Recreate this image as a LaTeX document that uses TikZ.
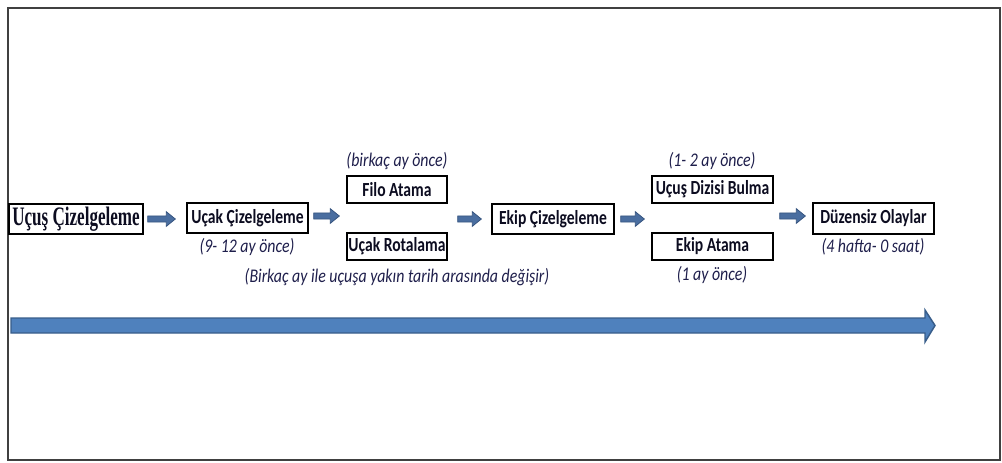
\documentclass[tikz,border=0pt]{standalone}
\usepackage{fontspec}
\usetikzlibrary{calc}
\newfontfamily\labelfont[FakeStretch=0.78]{Carlito}
\newfontfamily\notefont[FakeStretch=0.82]{Carlito}
\newfontfamily\headfont[FakeStretch=0.64]{Liberation Serif}
\definecolor{inkc}{RGB}{12,12,32}
\definecolor{notec}{RGB}{30,30,75}
\definecolor{barfill}{RGB}{79,129,189}
\definecolor{barline}{RGB}{56,93,138}
\definecolor{tipfill}{RGB}{74,110,160}
\definecolor{tipline}{RGB}{55,85,128}
\begin{document}
\begin{tikzpicture}[x=0.75pt,y=-0.75pt,
  stage/.style={draw=black, line width=1pt, inner sep=0pt, text=inkc,
    font=\labelfont\bfseries\fontsize{15}{17}\selectfont, minimum height=22.5pt},
  substage/.style={stage, minimum height=20.25pt},
  note/.style={inner sep=0pt, text=notec, font=\notefont\itshape\fontsize{14.5}{16}\selectfont},
  flow/.style={fill=tipfill, draw=tipline, line width=0.6pt,
    to path={let \p1=(\tikztostart), \p2=(\tikztotarget) in
      (\x1,\y1+2.3pt) -- (\x2-6.8pt,\y1+2.3pt) -- (\x2-6.8pt,\y1+5.5pt) -- (\x2,\y1)
      -- (\x2-6.8pt,\y1-5.5pt) -- (\x2-6.8pt,\y1-2.3pt) -- (\x1,\y1-2.3pt) -- cycle}}
]
\useasboundingbox (0,0) rectangle (1002,462);
% outer frame
\draw[draw=black!75, line width=1.2pt] (8,8) rectangle (1000,460);

% planning stages
\node[stage, minimum width=100.5pt, font=\headfont\bfseries\fontsize{20}{22}\selectfont] (t) at (76,219) {Uçuş Çizelgeleme};
\node[stage, minimum width=90.75pt] (u) at (247.5,218) {Uçak Çizelgeleme};
\node[substage, minimum width=75pt] (f) at (397,189.5) {Filo Atama};
\node[substage, minimum width=75pt] (r) at (397,246.5) {Uçak Rotalama};
\node[stage, minimum width=91.5pt] (e) at (553,219) {Ekip Çizelgeleme};
\node[substage, minimum width=90.75pt] (d) at (712.5,189.5) {Uçuş Dizisi Bulma};
\node[substage, minimum width=90.75pt] (a) at (712.5,246.5) {Ekip Atama};
\node[stage, minimum width=90.75pt, minimum height=23.25pt] (z) at (873.5,218.5) {Düzensiz Olaylar};

% time notes
\node[note] (nu) at (247,247) {(9- 12 ay önce)};
\node[note] (nf) at (397,161) {(birkaç ay önce)};
\node[note] (nr) at (397,277) {(Birkaç ay ile uçuşa yakın tarih arasında değişir)};
\node[note] (nd) at (712,161) {(1- 2 ay önce)};
\node[note] (na) at (712,275) {(1 ay önce)};
\node[note] (nz) at (873,247) {(4 hafta- 0 saat)};

% gaps between the paired stages
\coordinate (g1) at ($(f.south)!0.5!(r.north)$);
\coordinate (g2) at ($(d.south)!0.5!(a.north)$);

% flow arrows
\path[flow] ([xshift=3pt]t.east) to ([xshift=-8.25pt]u.west);
\path[flow] ([xshift=3.75pt,yshift=1.5pt]u.east) to ([xshift=-5.25pt]g1 -| f.west);
\path[flow] ([xshift=7.5pt,yshift=-0.75pt]g1 -| f.east) to ([xshift=-7.5pt]e.west);
\path[flow] ([xshift=4.5pt]e.east) to ([xshift=-5.25pt]g2 -| d.west);
\path[flow] ([xshift=4.5pt,yshift=1.5pt]g2 -| d.east) to ([xshift=-5.25pt]z.west);

% time line
\draw[fill=barfill, draw=barline, line width=1.1pt, line join=miter]
  (11,318) -- (925,318) -- (925,310) -- (935,325.5) -- (925,342) -- (925,333) -- (11,333) -- cycle;
\end{tikzpicture}
\end{document}
